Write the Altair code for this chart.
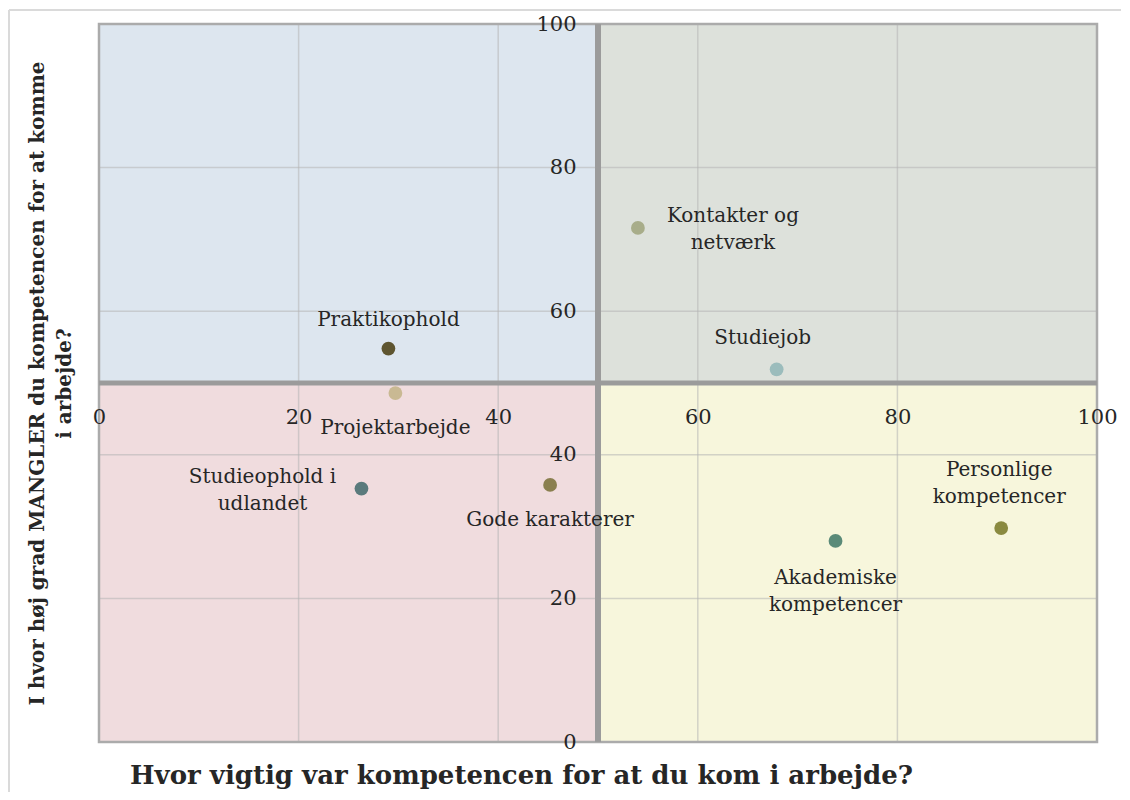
import altair as alt
import pandas as pd

# ---- data ----
names = ["Kontakter og netværk", "Studiejob", "Praktikophold", "Projektarbejde",
         "Studieophold i udlandet", "Gode karakterer", "Akademiske kompetencer",
         "Personlige kompetencer"]
labels = ["Kontakter og\nnetværk", "Studiejob", "Praktikophold", "Projektarbejde",
          "Studieophold i\nudlandet", "Gode karakterer", "Akademiske\nkompetencer",
          "Personlige\nkompetencer"]
x_vals = [54.0, 67.9, 29.0, 29.7, 26.3, 45.2, 73.8, 90.4]
y_vals = [71.6, 51.9, 54.8, 48.6, 35.3, 35.8, 28.0, 29.8]
point_colors = ["#a8ad8a", "#9bbcbc", "#5e5530", "#c9b993",
                "#5a7a7c", "#8a7f4f", "#5a8a78", "#8a8a40"]

tick_values = [0, 20, 40, 60, 80, 100]
grid_values = [20, 40, 60, 80]
split_value = 50
quad_x = [0, 50, 0, 50]
quad_x2 = [50, 100, 50, 100]
quad_y = [50, 50, 0, 0]
quad_y2 = [100, 100, 50, 50]
quad_colors = ["#dde6ef", "#dde1db", "#f0dcde", "#f7f6dc"]

x_title = "Hvor vigtig var kompetencen for at du kom i arbejde?"
y_title = ["I hvor høj grad MANGLER du kompetencen for at komme", "i arbejde?"]

# ---- layout / style ----
W, H = 998, 718
FONT = "DejaVu Serif"
TEXT_COLOR = "#262626"

# label placement: (dx, dy) in pixels relative to the point
label_offsets = {
    "Kontakter og netværk": (95, -12),
    "Studiejob": (-14, -31),
    "Praktikophold": (0, -29),
    "Projektarbejde": (0, 35),
    "Studieophold i udlandet": (-99, -12),
    "Gode karakterer": (0, 35),
    "Akademiske kompetencer": (0, 37),
    "Personlige kompetencer": (-2, -58),
}

pts = pd.DataFrame({"name": names, "label": labels, "x": x_vals, "y": y_vals})
quads = pd.DataFrame({"x": quad_x, "x2": quad_x2, "y": quad_y, "y2": quad_y2,
                      "q": [str(i) for i in range(4)]})
grid = pd.DataFrame({"v": grid_values})
split = pd.DataFrame({"v": [split_value]})
frame = pd.DataFrame({"x": [0], "x2": [100], "y": [0], "y2": [100]})

xscale = alt.Scale(domain=[0, 100], nice=False, zero=False)
yscale = alt.Scale(domain=[0, 100], nice=False, zero=False)

x_axis = alt.Axis(values=tick_values, orient="bottom", offset=-H / 2, domain=False,
                  ticks=False, grid=False, labelPadding=23, labelFlush=False,
                  labelOverlap=False, labelFont=FONT, labelFontSize=21,
                  labelColor=TEXT_COLOR, title=x_title, titleFont=FONT,
                  titleFontSize=26, titleFontWeight="bold", titleColor=TEXT_COLOR,
                  titleX=422, titleY=392, titleBaseline="middle", titleAlign="center",
                  zindex=2)
y_axis = alt.Axis(values=tick_values, orient="left", offset=-W / 2, domain=False,
                  ticks=False, grid=False, labelPadding=22, labelFlush=False,
                  labelOverlap=False, labelFont=FONT, labelFontSize=21,
                  labelColor=TEXT_COLOR, title=y_title, titleFont=FONT,
                  titleFontSize=20, titleFontWeight="bold", titleColor=TEXT_COLOR,
                  titleX=-561, titleY=H / 2, titleBaseline="middle",
                  titleAlign="center", titleAngle=270, titleLineHeight=27,
                  zindex=2)

quad_layer = alt.Chart(quads).mark_rect().encode(
    x=alt.X("x:Q", scale=xscale, axis=x_axis),
    x2="x2:Q",
    y=alt.Y("y:Q", scale=yscale, axis=y_axis),
    y2="y2:Q",
    fill=alt.Fill("q:N", scale=alt.Scale(domain=["0", "1", "2", "3"], range=quad_colors),
                  legend=None),
)

vgrid = alt.Chart(grid).mark_rule(color="#b4b4b4", opacity=0.55, strokeWidth=1.5).encode(
    x=alt.X("v:Q", scale=xscale))
hgrid = alt.Chart(grid).mark_rule(color="#b4b4b4", opacity=0.55, strokeWidth=1.5).encode(
    y=alt.Y("v:Q", scale=yscale))

border = alt.Chart(frame).mark_rect(fillOpacity=0, stroke="#ababab", strokeWidth=2.5).encode(
    x=alt.X("x:Q", scale=xscale), x2="x2:Q",
    y=alt.Y("y:Q", scale=yscale), y2="y2:Q")

vsplit = alt.Chart(split).mark_rule(color="#9b9b9b", strokeWidth=6).encode(
    x=alt.X("v:Q", scale=xscale))
hsplit = alt.Chart(split).mark_rule(color="#9b9b9b", strokeWidth=5).encode(
    y=alt.Y("v:Q", scale=yscale))

points = alt.Chart(pts).mark_circle(size=190, opacity=1).encode(
    x=alt.X("x:Q", scale=xscale),
    y=alt.Y("y:Q", scale=yscale),
    color=alt.Color("name:N", scale=alt.Scale(domain=names, range=point_colors), legend=None),
)

text_layers = []
for n in names:
    dx, dy = label_offsets[n]
    text_layers.append(
        alt.Chart(pts).transform_filter(alt.datum.name == n).mark_text(
            font=FONT, fontSize=20, color=TEXT_COLOR, align="center",
            baseline="middle", lineBreak="\n", lineHeight=27, dx=dx, dy=dy
        ).encode(x=alt.X("x:Q", scale=xscale), y=alt.Y("y:Q", scale=yscale),
                 text="label:N")
    )

# outer frame lines (decoration)
outer_top = alt.Chart(split).mark_rule(color="#dadada", strokeWidth=2).encode(
    x=alt.value(-90), x2=alt.value(1022), y=alt.value(-14))
outer_left = alt.Chart(split).mark_rule(color="#dadada", strokeWidth=2).encode(
    x=alt.value(-90), y=alt.value(-14), y2=alt.value(775))

chart = alt.layer(
    quad_layer, vgrid, hgrid, border, vsplit, hsplit, points, *text_layers,
    outer_top, outer_left
).resolve_scale(color="independent", fill="independent").properties(
    width=W, height=H,
    autosize=alt.AutoSizeParams(type="none"),
    padding={"left": 91, "top": 16, "right": 25, "bottom": 50},
).configure_view(stroke=None).configure(background="white")

chart.save("out.html", embed_options={"renderer": "svg", "actions": False})
